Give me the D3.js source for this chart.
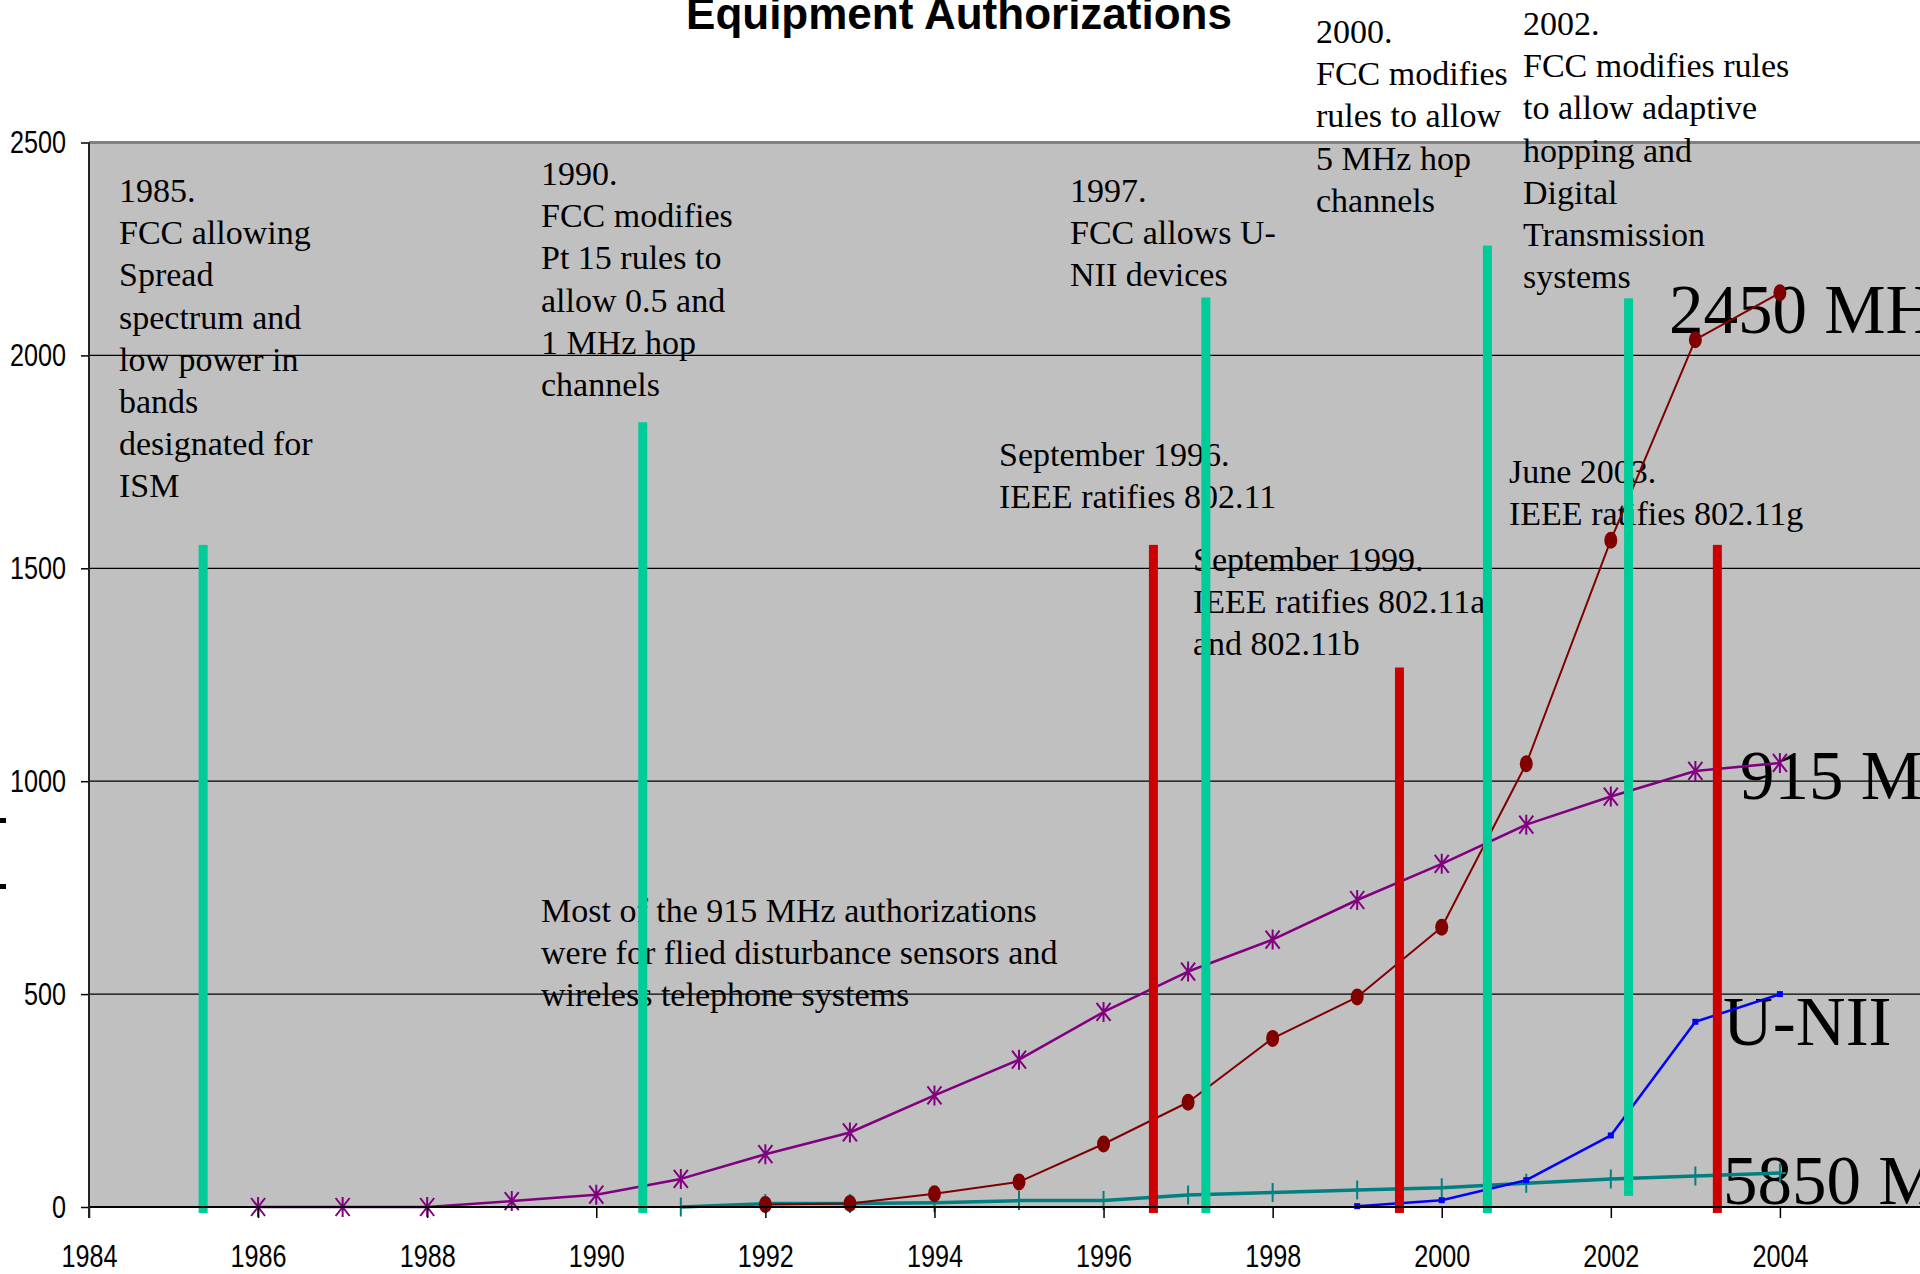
<!DOCTYPE html>
<html>
<head>
<meta charset="utf-8">
<script src="https://cdn.jsdelivr.net/npm/d3@7"></script>
<style>
  body { margin: 0; background: #fff; }
  svg { display: block; }
  .serif { font-family: "Liberation Serif", "Times New Roman", serif; }
  .tick text { font-family: "Liberation Sans", Arial, sans-serif; }
</style>
</head>
<body>
<svg id="chart" width="1920" height="1274"></svg>
<script>
// yearly authorizations
const years = [1986, 1987, 1988, 1989, 1990, 1991, 1992, 1993, 1994, 1995,
               1996, 1997, 1998, 1999, 2000, 2001, 2002, 2003, 2004];
const mhz915 = [0, 0, 0, 14, 29, 66, 124, 175, 262, 346, 458, 553, 628, 721, 806, 898, 964, 1024, 1043];
const mhz2450 = [null, null, null, null, null, null, 6, 8, 31, 59, 148, 246, 396, 493, 657, 1041, 1566, 2037, 2147];
const uNii = [null, null, null, null, null, null, null, null, null, null, null, null, null, 2, 16, 63, 168, 435, 500];
const mhz5850 = [null, null, null, null, null, 0, 8, 8, 10, 15, 15, 28, 34, 40, 45, 56, 66, 73, 80];

const yTicks = [0, 500, 1000, 1500, 2000, 2500];
const xTicks = [1984, 1986, 1988, 1990, 1992, 1994, 1996, 1998, 2000, 2002, 2004];

// FCC rule changes (green) and IEEE ratifications (red): year, top value
const fccYears = [1985.35, 1990.55, 1997.21, 2000.54, 2002.21];
const fccTops = [1555, 1843, 2136, 2258, 2134];
const fccBottoms = [-14, -14, -14, -14, 26];
const ieeeYears = [1996.59, 1999.5, 2003.26];
const ieeeTops = [1555, 1267, 1555];

const notes = [
  { x: 119, y: 202, lines: ['1985.', 'FCC allowing', 'Spread', 'spectrum and', 'low power in', 'bands', 'designated for', 'ISM'] },
  { x: 541, y: 185, lines: ['1990.', 'FCC modifies', 'Pt 15 rules to', 'allow 0.5 and', '1 MHz hop', 'channels'] },
  { x: 1070, y: 202, lines: ['1997.', 'FCC allows U-', 'NII devices'] },
  { x: 1316, y: 43, lines: ['2000.', 'FCC modifies', 'rules to allow', '5 MHz hop', 'channels'] },
  { x: 1523, y: 35, lines: ['2002.', 'FCC modifies rules', 'to allow adaptive', 'hopping and', 'Digital', 'Transmission', 'systems'] },
  { x: 999, y: 466, lines: ['September 1996.', 'IEEE ratifies 802.11'] },
  { x: 1193, y: 571, lines: ['September 1999.', 'IEEE ratifies 802.11a', 'and 802.11b'] },
  { x: 1509, y: 483, lines: ['June 2003.', 'IEEE ratifies 802.11g'] },
  { x: 541, y: 922, lines: ['Most of the 915 MHz authorizations', 'were for flied disturbance sensors and', 'wireless telephone systems'] }
];

const bandLabels = [
  { text: '2450 MHz', x: 1669, y: 333 },
  { text: '915 MHz', x: 1740, y: 799 },
  { text: 'U-NII', x: 1723, y: 1045 },
  { text: '5850 MHz', x: 1723, y: 1204 }
];

const svg = d3.select('#chart');
const x = d3.scaleLinear().domain([1984, 2006]).range([89, 1949]);
const y = d3.scaleLinear().domain([0, 2500]).range([1207, 142.5]);

// plot area
svg.append('rect')
  .attr('x', x(1984)).attr('y', y(2500))
  .attr('width', x(2006) - x(1984)).attr('height', y(0) - y(2500))
  .attr('fill', '#c0c0c0');
svg.append('line')
  .attr('x1', x(1984)).attr('x2', 1920)
  .attr('y1', y(2500)).attr('y2', y(2500))
  .attr('stroke', '#808080').attr('stroke-width', 3);

// gridlines
svg.append('g').selectAll('line')
  .data(yTicks.filter(d => d > 0 && d < 2500))
  .join('line')
  .attr('x1', x(1984)).attr('x2', 1920)
  .attr('y1', d => y(d)).attr('y2', d => y(d))
  .attr('stroke', '#000').attr('stroke-width', 1.2);

// title
svg.append('text')
  .attr('x', 959).attr('y', 29)
  .attr('text-anchor', 'middle')
  .style('font-family', '"Liberation Sans", Arial, sans-serif')
  .style('font-weight', 'bold')
  .style('font-size', '44px')
  .text('Equipment Authorizations');

// annotations
notes.forEach(n => {
  const t = svg.append('text').attr('class', 'serif')
    .attr('x', n.x).attr('y', n.y)
    .style('font-size', '34px').attr('fill', '#000');
  n.lines.forEach((line, i) => {
    t.append('tspan').attr('x', n.x).attr('dy', i === 0 ? 0 : 42.2).text(line);
  });
});

bandLabels.forEach(b => {
  svg.append('text').attr('class', 'serif')
    .attr('x', b.x).attr('y', b.y)
    .style('font-size', '69px')
    .text(b.text);
});

// series
function rows(values) {
  return years.map((yr, i) => ({ year: yr, value: values[i] })).filter(d => d.value !== null);
}

const line = d3.line().x(d => x(d.year)).y(d => y(d.value));

function drawLine(values, color, width) {
  svg.append('path')
    .datum(rows(values))
    .attr('d', line)
    .attr('fill', 'none')
    .attr('stroke', color)
    .attr('stroke-width', width)
    .attr('stroke-linejoin', 'round');
}

// 5850 MHz, teal with + markers
drawLine(mhz5850, '#008080', 3.5);
svg.append('g').selectAll('path')
  .data(rows(mhz5850))
  .join('path')
  .attr('transform', d => `translate(${x(d.year)},${y(d.value)})`)
  .attr('d', 'M0,-9.5L0,9.5M-6,0L6,0')
  .attr('stroke', '#008080').attr('stroke-width', 2);

// 915 MHz, purple asterisks
drawLine(mhz915, '#800080', 2.5);
svg.append('g').selectAll('path')
  .data(rows(mhz915))
  .join('path')
  .attr('transform', d => `translate(${x(d.year)},${y(d.value)})`)
  .attr('d', 'M-7,-9L7,9M7,-9L-7,9M0,-10L0,10')
  .attr('stroke', '#800080').attr('stroke-width', 2);

// 2450 MHz, dark red ellipses
drawLine(mhz2450, '#800000', 2);
svg.append('g').selectAll('ellipse')
  .data(rows(mhz2450))
  .join('ellipse')
  .attr('cx', d => x(d.year)).attr('cy', d => y(d.value))
  .attr('rx', 6.5).attr('ry', 8.5)
  .attr('fill', '#800000');

// U-NII, blue squares
drawLine(uNii, '#0000ff', 2.5);
svg.append('g').selectAll('rect')
  .data(rows(uNii))
  .join('rect')
  .attr('x', d => x(d.year) - 3).attr('y', d => y(d.value) - 3)
  .attr('width', 6).attr('height', 6)
  .attr('fill', '#0000ff');

// event bars
svg.append('g').selectAll('rect')
  .data(fccYears)
  .join('rect')
  .attr('x', d => x(d) - 4.5)
  .attr('y', (d, i) => y(fccTops[i]))
  .attr('width', 9)
  .attr('height', (d, i) => y(fccBottoms[i]) - y(fccTops[i]))
  .attr('fill', '#00cc99');

svg.append('g').selectAll('rect')
  .data(ieeeYears)
  .join('rect')
  .attr('x', d => x(d) - 4.5)
  .attr('y', (d, i) => y(ieeeTops[i]))
  .attr('width', 9)
  .attr('height', (d, i) => y(-14) - y(ieeeTops[i]))
  .attr('fill', '#cc0000');

// axes (labels squeezed to look like Arial Narrow)
function narrow(sel) {
  sel.style('font-size', '32px').attr('fill', '#000')
    .attr('textLength', d => String(d).length * 14)
    .attr('lengthAdjust', 'spacingAndGlyphs');
}

const yAxis = svg.append('g')
  .attr('transform', `translate(${x(1984)},0)`)
  .call(d3.axisLeft(y).tickValues(yTicks).tickFormat(d3.format('d')).tickSize(8).tickPadding(15));
yAxis.select('.domain').remove();
yAxis.selectAll('.tick line').attr('stroke', '#000').attr('stroke-width', 1.5);
yAxis.selectAll('.tick text').call(narrow);

const xAxis = svg.append('g')
  .attr('transform', `translate(0,${y(0)})`)
  .call(d3.axisBottom(x).tickValues(xTicks).tickFormat(d3.format('d')).tickSize(11).tickPadding(26));
xAxis.select('.domain').remove();
xAxis.selectAll('.tick line').attr('stroke', '#000').attr('stroke-width', 1.5);
xAxis.selectAll('.tick text').call(narrow);

svg.append('line')
  .attr('x1', x(1984)).attr('x2', 1920)
  .attr('y1', y(0)).attr('y2', y(0))
  .attr('stroke', '#000').attr('stroke-width', 2);
svg.append('line')
  .attr('x1', x(1984)).attr('x2', x(1984))
  .attr('y1', y(2500)).attr('y2', y(0) + 11)
  .attr('stroke', '#222').attr('stroke-width', 2);

// cut-off axis title fragments at the far left
svg.append('rect').attr('x', 0).attr('y', 818).attr('width', 6).attr('height', 5).attr('fill', '#000');
svg.append('rect').attr('x', 0).attr('y', 884).attr('width', 6).attr('height', 5).attr('fill', '#000');
</script>
</body>
</html>
